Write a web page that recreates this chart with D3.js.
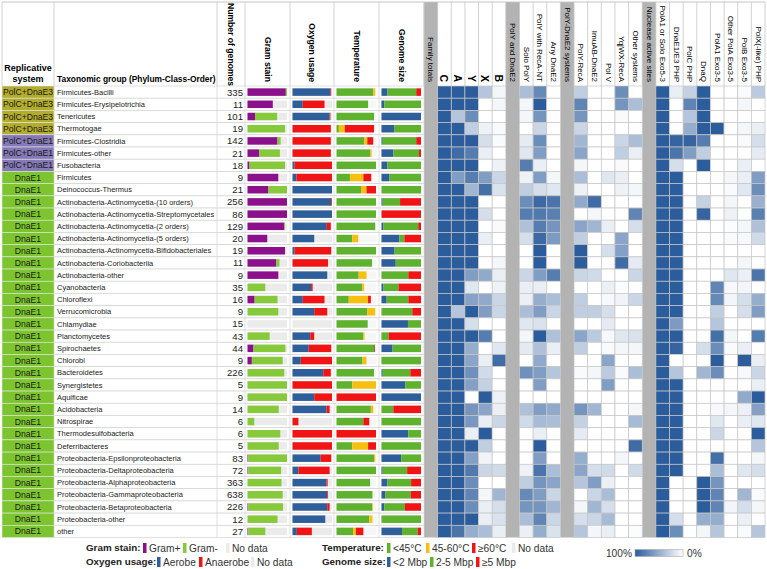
<!DOCTYPE html>
<html>
<head>
<meta charset="utf-8">
<script src="https://cdn.jsdelivr.net/npm/d3@7"></script>
<style>
  body { margin: 0; background: #fff; font-family: "Liberation Sans", Arial, sans-serif; }
</style>
</head>
<body>
<div id="chart"></div>
<script>
// ---- data ----
const systems = [
  "PolC+DnaE3","PolC+DnaE3","PolC+DnaE3","PolC+DnaE3",
  "PolC+DnaE1","PolC+DnaE1","PolC+DnaE1",
  "DnaE1","DnaE1","DnaE1","DnaE1","DnaE1","DnaE1","DnaE1","DnaE1","DnaE1","DnaE1",
  "DnaE1","DnaE1","DnaE1","DnaE1","DnaE1","DnaE1","DnaE1","DnaE1","DnaE1","DnaE1",
  "DnaE1","DnaE1","DnaE1","DnaE1","DnaE1","DnaE1","DnaE1","DnaE1","DnaE1","DnaE1"
];
const taxa = [
  "Firmicutes-Bacilli","Firmicutes-Erysipelotrichia","Tenericutes","Thermotogae",
  "Firmicutes-Clostridia","Firmicutes-other","Fusobacteria","Firmicutes",
  "Deinococcus-Thermus","Actinobacteria-Actinomycetia-(10 orders)",
  "Actinobacteria-Actinomycetia-Streptomycetales","Actinobacteria-Actinomycetia-(2 orders)",
  "Actinobacteria-Actinomycetia-(5 orders)","Actinobacteria-Actinomycetia-Bifidobacteriales",
  "Actinobacteria-Coriobacteriia","Actinobacteria-other","Cyanobacteria","Chloroflexi",
  "Verrucomicrobia","Chlamydiae","Planctomycetes","Spirochaetes","Chlorobi","Bacteroidetes",
  "Synergistetes","Aquificae","Acidobacteria","Nitrospirae","Thermodesulfobacteria",
  "Deferribacteres","Proteobacteria-Epsilonproteobacteria","Proteobacteria-Deltaproteobacteria",
  "Proteobacteria-Alphaproteobacteria","Proteobacteria-Gammaproteobacteria",
  "Proteobacteria-Betaproteobacteria","Proteobacteria-other","other"
];
const genomes = [335,11,101,19,142,21,18,9,21,256,86,129,20,19,11,9,35,16,9,15,43,44,9,226,5,9,14,6,6,5,83,72,363,638,226,12,27];

// fractions; whatever is left over is "No data"
const gram = [ // [Gram+, Gram-]
  [0.97,0.03],[0.64,0],[0.19,0.56],[0,0.95],[0.76,0.08],[0.30,0.52],[0.05,0.90],[0.78,0],
  [0.53,0.47],[1,0],[1,0],[0.93,0.02],[0.50,0],[0.95,0],[0.73,0.08],[0.78,0],[0,0.45],
  [0.18,0.58],[0,0.78],[0,0],[0,0.56],[0.15,0.81],[0.11,0.78],[0,0.93],[0,1],[0,1],[0,0.79],
  [0,0.17],[0,0.83],[0,0.79],[0.02,0.98],[0.02,0.83],[0,0.86],[0,0.89],[0.02,0.88],[0,0.76],[0.02,0.43]
];
const oxygen = [ // [Aerobe, Anaerobe]
  [0.96,0.02],[0.26,0.55],[0.94,0.02],[0,0.97],[0,0.97],[0,0.97],[0.05,0.95],[0.10,0.90],
  [1,0],[0.98,0.02],[1,0],[0.87,0.10],[0.55,0],[0.05,0.93],[0,0.90],[0.88,0],[0.47,0.04],
  [0.26,0.55],[0.55,0.33],[0,0],[0.45,0.10],[0.41,0.57],[0.21,0.79],[0.78,0.19],[0,1],[0.55,0.45],
  [0.86,0.08],[0,0.15],[0,1],[0,1],[0.71,0.27],[0.15,0.79],[0.86,0.03],[0.88,0.02],[0.88,0.06],[0.83,0],[0.11,0.38]
];
const temperature = [ // [<45, 45-60, >=60]
  [0.93,0.05,0],[0.80,0,0],[0.95,0,0],[0.06,0.15,0.74],[0.70,0.08,0.15],[0.86,0.03,0],[1,0,0],
  [0.34,0.34,0.20],[0.62,0.14,0.24],[1,0,0],[1,0,0],[0.98,0,0],[0.40,0.15,0],[1,0,0],[0.90,0,0],
  [0.56,0.20,0],[0.65,0.05,0],[0.31,0.49,0.07],[0.78,0.20,0],[0.79,0,0],[0.68,0.03,0],[0.95,0,0.02],
  [0.66,0.10,0],[0.95,0,0],[0.40,0.60,0],[0,0,1],[0.87,0.06,0],[0.68,0,0.15],[0,0,1],[0.40,0.40,0.20],
  [0.95,0.03,0],[1,0,0],[0.85,0,0],[0.91,0,0],[0.90,0.02,0],[0.83,0.08,0],[0.42,0.07,0.19]
];
const genomeSize = [ // [<2 Mbp, 2-5 Mbp, >=5 Mbp]
  [0.15,0.73,0.12],[0.07,0.93,0],[1,0,0],[0.32,0.68,0],[0.03,0.85,0.12],[0.30,0.65,0.05],[0.15,0.85,0],
  [0.20,0.80,0],[0,1,0],[0.03,0.44,0.53],[0,0,1],[0.05,0.88,0.07],[0.45,0.13,0.42],[0.33,0.67,0],
  [0.36,0.64,0],[0,0.68,0.32],[0.05,0.38,0.57],[0.13,0.55,0.32],[0,0.78,0.22],[0.67,0.33,0],
  [0,0.18,0.82],[0.28,0.72,0],[0,1,0],[0.03,0.70,0.27],[0.60,0.40,0],[1,0,0],[0,0.30,0.70],[0,1,0],
  [0.68,0.32,0],[0,1,0],[0.50,0.50,0],[0.03,0.62,0.35],[0.15,0.60,0.25],[0.10,0.64,0.26],
  [0.07,0.52,0.41],[0,1,0],[0.52,0.40,0.08]
];

// heat map columns; "sep" columns are the grey group headers
const heatLabels = [
  "Family totals","C","A","Y","X","B",
  "PolY and DnaE2","Solo PolY","PolY with RecA-NT","Any DnaE2",
  "PolY-DnaE2 systems","PolY-RecA","ImuAB-DnaE2","Pol V","YqjWX-RecA","Other systems",
  "Nuclease active sites","PolA1 or Solo Exo5-3","DnaE1/E3 PHP","PolC PHP","DnaQ",
  "PolA1 Exo3-5","Other PolA Exo3-5","PolB Exo3-5","PolX(-like) PHP"
];
const sepCols = [0, 6, 10, 16];
const boldCols = [1, 2, 3, 4, 5];

// percent of genomes, one row per taxon, 21 non-grey columns
const heat = [
  [100,100,100,35,5, 40,72,0, 30,0,0,70,0, 100,10,28,100,0,0,3,32],
  [100,100,100,0,5, 5,100,0, 75,0,0,65,40, 100,0,75,100,0,0,5,0],
  [100,35,70,0,0, 5,65,0, 65,0,0,3,0, 100,0,35,100,0,0,0,0],
  [100,100,30,8,3, 0,25,0, 25,0,0,0,0, 100,0,50,100,100,0,5,10],
  [100,100,100,20,3, 12,70,0, 45,0,0,25,40, 100,95,95,80,0,0,3,20],
  [100,90,80,10,0, 15,60,0, 55,0,0,30,10, 100,85,60,30,0,0,0,12],
  [100,100,100,0,8, 80,10,0, 5,0,0,3,0, 100,20,0,100,0,0,10,0],
  [100,60,80,60,25, 8,60,5, 40,0,15,10,0, 100,100,0,0,0,5,10,60],
  [100,100,45,88,18, 30,20,15, 8,0,0,8,5, 100,100,0,0,0,3,15,70],
  [100,100,100,0,0, 70,92,85, 52,90,0,0,0, 100,100,0,28,0,5,0,48],
  [100,100,100,20,0, 80,82,78, 0,5,0,0,75, 100,100,0,95,0,8,0,78],
  [100,100,100,0,3, 38,80,65, 55,45,10,0,20, 100,100,0,0,0,2,5,38],
  [100,100,100,10,0, 20,92,62, 30,0,0,55,0, 100,100,0,0,0,3,4,22],
  [100,100,100,0,0, 0,100,0, 100,0,20,58,0, 100,100,0,0,0,0,0,0],
  [100,100,100,0,5, 0,100,0, 100,0,0,90,12, 100,100,0,0,0,0,5,0],
  [100,100,60,52,10, 25,60,80, 25,22,0,0,25, 100,100,0,0,0,15,9,85],
  [100,100,15,0,8, 10,10,0, 0,0,9,2,0, 100,100,0,0,75,4,6,0],
  [100,100,57,52,25, 9,50,40, 30,0,4,7,25, 100,100,0,0,72,6,20,50],
  [100,35,100,60,25, 40,60,25, 30,30,20,0,0, 100,100,0,0,30,0,20,60],
  [100,100,20,0,0, 15,18,0, 0,0,12,0,0, 100,62,0,0,35,0,0,0],
  [100,100,100,80,0, 5,100,38, 55,32,4,15,18, 100,100,0,0,88,5,0,80],
  [100,100,50,0,15, 13,38,10, 30,0,3,5,5, 100,95,0,20,70,3,10,0],
  [100,100,55,10,90, 0,52,0, 0,0,55,0,0, 100,0,0,0,100,0,100,10],
  [100,100,68,22,0, 68,60,35, 3,5,32,3,40, 100,35,0,45,70,0,4,25],
  [100,100,58,28,0, 0,60,0, 0,0,60,0,0, 100,100,0,0,0,0,0,10],
  [100,100,0,100,8, 0,0,0, 0,0,0,0,0, 100,100,0,0,0,0,52,100],
  [100,100,65,55,9, 38,60,52, 65,45,0,0,5, 100,100,0,0,4,5,9,58],
  [100,100,63,10,25, 22,42,40, 28,0,0,0,42, 100,100,0,0,15,0,10,15],
  [100,100,10,100,0, 0,10,0, 12,0,0,0,0, 100,100,0,0,25,0,0,100],
  [100,100,100,30,0, 0,100,0, 0,0,0,0,90, 100,100,0,0,0,0,0,35],
  [100,100,58,7,0, 0,60,0, 50,0,0,5,0, 100,100,0,0,88,0,0,5],
  [100,100,82,25,22, 8,85,40, 55,20,22,0,22, 100,100,0,0,40,0,15,20],
  [100,100,70,0,0, 30,65,55, 35,60,9,0,0, 100,0,0,100,65,0,0,0],
  [100,100,75,5,45, 72,60,25, 0,25,40,0,0, 100,0,0,100,75,0,45,3],
  [100,100,70,10,20, 65,65,45, 5,45,20,0,0, 100,0,0,100,75,6,20,5],
  [100,100,100,10,18, 40,75,25, 20,25,42,0,0, 100,20,0,50,50,0,9,0],
  [100,85,50,40,10, 9,50,18, 35,5,10,0,2, 100,70,0,5,35,0,3,35]
];

// ---- colours ----
const systemColor = { "PolC+DnaE3": "#b3ad2d", "PolC+DnaE1": "#8579b7", "DnaE1": "#7dc52f" };
const noData = "#ebebeb";
const gramColors = ["#8c0f8c", "#86c93a"];
const oxygenColors = ["#2f5f9b", "#f01414"];
const tempColors = ["#5fb22e", "#f7c00f", "#f01414"];
const sizeColors = ["#2f5f9b", "#5fb22e", "#f01414"];
const heatDark = "#2b5c9c";
const sepGrey = "#b3b3b3";
const gridGrey = "#c6c6c6";

// ---- layout ----
const width = 767, height = 569;
const headTop = 2, headBottom = 86;
const colEdges = [2, 54, 217, 245, 290, 334, 379, 424];

const svg = d3.select("#chart").append("svg")
  .attr("width", width).attr("height", height)
  .style("font-family", '"Liberation Sans", Arial, sans-serif');

const y = d3.scaleBand().domain(d3.range(taxa.length)).range([headBottom, 537.5]);
const hx = d3.scaleBand().domain(d3.range(heatLabels.length)).range([424, 765]);
const heatColor = d3.scaleLinear().domain([0, 100]).range(["#ffffff", heatDark]);

// data column indices for non grey columns
const dataCols = d3.range(heatLabels.length).filter(i => !sepCols.includes(i));

// grey separator columns (full height incl. header)
svg.selectAll(".sep").data(sepCols).enter().append("rect")
  .attr("x", d => hx(d)).attr("y", headTop)
  .attr("width", hx.bandwidth()).attr("height", y.range()[1] - headTop)
  .attr("fill", sepGrey);

// header vertical lines
const headLines = colEdges.concat(d3.range(heatLabels.length + 1).map(i => 424 + i * hx.step()));
svg.selectAll(".hline").data(headLines).enter().append("line")
  .attr("x1", d => d).attr("x2", d => d)
  .attr("y1", headTop).attr("y2", headBottom)
  .attr("stroke", gridGrey).attr("stroke-width", 0.8);
svg.append("line").attr("x1", 2).attr("x2", 765).attr("y1", headTop).attr("y2", headTop)
  .attr("stroke", gridGrey);

// header text
svg.append("text").attr("x", 28).attr("y", 71).attr("text-anchor", "middle")
  .attr("font-size", 9).attr("font-weight", "bold").text("Replicative");
svg.append("text").attr("x", 28).attr("y", 82).attr("text-anchor", "middle")
  .attr("font-size", 9).attr("font-weight", "bold").text("system");
svg.append("text").attr("x", 57).attr("y", 82)
  .attr("font-size", 8.4).attr("font-weight", "bold").text("Taxonomic group (Phylum-Class-Order)");

const leftHeads = [
  { label: "Number of genomes", c: 2 },
  { label: "Gram stain", c: 3 },
  { label: "Oxygen usage", c: 4 },
  { label: "Temperature", c: 5 },
  { label: "Genome size", c: 6 }
];
svg.selectAll(".lhead").data(leftHeads).enter().append("text")
  .attr("transform", d => `translate(${(colEdges[d.c] + colEdges[d.c + 1]) / 2},${d.c === 2 ? 3 : 82}) rotate(90)`)
  .attr("text-anchor", d => d.c === 2 ? "start" : "end")
  .attr("dominant-baseline", "central")
  .attr("font-size", 8.6).attr("font-weight", "bold")
  .text(d => d.label);

svg.selectAll(".hhead").data(heatLabels).enter().append("text")
  .attr("transform", (d, i) => `translate(${hx(i) + hx.bandwidth() / 2},82) rotate(90)`)
  .attr("text-anchor", "end")
  .attr("dominant-baseline", "central")
  .attr("font-size", (d, i) => boldCols.includes(i) ? 10.5 : 8)
  .attr("font-weight", (d, i) => boldCols.includes(i) ? "bold" : "normal")
  .text(d => d);

// ---- rows ----
const rows = svg.selectAll(".row").data(taxa).enter().append("g")
  .attr("class", "row")
  .attr("transform", (d, i) => `translate(0,${y(i)})`);
const rh = y.bandwidth();

rows.append("rect").attr("x", colEdges[1]).attr("y", 0)
  .attr("width", colEdges[7] - colEdges[1]).attr("height", rh)
  .attr("fill", "#fff").attr("stroke", "#d3d3d3").attr("stroke-width", 0.7);
rows.each(function () {
  d3.select(this).selectAll(".vl").data(colEdges.slice(2, 7)).enter().append("line")
    .attr("x1", d => d).attr("x2", d => d).attr("y1", 0).attr("y2", rh)
    .attr("stroke", "#d3d3d3").attr("stroke-width", 0.7);
});

rows.append("rect").attr("x", colEdges[0]).attr("y", 0)
  .attr("width", colEdges[1] - colEdges[0]).attr("height", rh)
  .attr("fill", (d, i) => systemColor[systems[i]])
  .attr("stroke", "#e4e4e4").attr("stroke-width", 0.6);
rows.append("text").attr("x", 28).attr("y", rh / 2).attr("dy", "0.35em")
  .attr("text-anchor", "middle").attr("font-size", 8.6).attr("fill", "#1a1a1a")
  .text((d, i) => systems[i]);
rows.append("text").attr("x", 57).attr("y", rh / 2).attr("dy", "0.35em")
  .attr("font-size", 7.5).attr("fill", "#222").text(d => d);
rows.append("text").attr("x", 243).attr("y", rh / 2).attr("dy", "0.36em")
  .attr("text-anchor", "end").attr("font-size", 9.6).attr("fill", "#222")
  .text((d, i) => genomes[i]);

// stacked bars
const barSets = [
  { values: gram, colors: gramColors, c: 3, bg: noData },
  { values: oxygen, colors: oxygenColors, c: 4, bg: noData },
  { values: temperature, colors: tempColors, c: 5, bg: "#f6f6f6" },
  { values: genomeSize, colors: sizeColors, c: 6, bg: noData }
];
const barH = 7.5;
barSets.forEach(set => {
  const x0 = colEdges[set.c] + 2.5;
  const bx = d3.scaleLinear().domain([0, 1]).range([x0, x0 + 39.5]);
  rows.append("rect").attr("x", bx(0)).attr("y", (rh - barH) / 2)
    .attr("width", bx(1) - bx(0)).attr("height", barH).attr("fill", set.bg);
  rows.each(function (d, i) {
    const vals = set.values[i];
    const ends = d3.cumsum(vals);
    d3.select(this).selectAll(null).data(vals).enter().append("rect")
      .attr("x", (v, k) => bx(ends[k] - v))
      .attr("y", (rh - barH) / 2)
      .attr("width", v => bx(v) - bx(0))
      .attr("height", barH)
      .attr("fill", (v, k) => set.colors[k]);
  });
});

// heat map cells
rows.each(function (d, i) {
  d3.select(this).selectAll(".cell").data(heat[i]).enter().append("rect")
    .attr("x", (v, k) => hx(dataCols[k]))
    .attr("y", 0)
    .attr("width", hx.bandwidth()).attr("height", rh)
    .attr("fill", v => heatColor(v))
    .attr("stroke", gridGrey).attr("stroke-width", 0.7);
});

// ---- legend ----
const legendRows = [
  { title: "Gram stain:", x: 86, y: 548, items: [["Gram+", gramColors[0], 143], ["Gram-", gramColors[1], 183], ["No data", noData, 226]] },
  { title: "Oxygen usage:", x: 86, y: 562, items: [["Aerobe", oxygenColors[0], 157], ["Anaerobe", oxygenColors[1], 199], ["No data", noData, 251]] },
  { title: "Temperature:", x: 322, y: 548, items: [["<45°C", tempColors[0], 387], ["45-60°C", tempColors[1], 426], ["≥60°C", tempColors[2], 472], ["No data", noData, 512]] },
  { title: "Genome size:", x: 322, y: 562, items: [["<2 Mbp", sizeColors[0], 387], ["2-5 Mbp", sizeColors[1], 430], ["≥5 Mbp", sizeColors[2], 476]] }
];
legendRows.forEach(lr => {
  svg.append("text").attr("x", lr.x).attr("y", lr.y).attr("dy", "0.35em")
    .attr("font-size", 9.8).attr("font-weight", "bold").attr("fill", "#222").text(lr.title);
  lr.items.forEach(([label, col, sx]) => {
    svg.append("rect").attr("x", sx).attr("y", lr.y - 5).attr("width", 3.5).attr("height", 10).attr("fill", col);
    svg.append("text").attr("x", sx + 6).attr("y", lr.y).attr("dy", "0.35em")
      .attr("font-size", 10.2).attr("fill", "#333").text(label);
  });
});

// gradient legend
const defs = svg.append("defs");
const grad = defs.append("linearGradient").attr("id", "heatGrad");
grad.append("stop").attr("offset", "0%").attr("stop-color", heatColor(100));
grad.append("stop").attr("offset", "100%").attr("stop-color", heatColor(0));
svg.append("rect").attr("x", 635).attr("y", 549.5).attr("width", 48).attr("height", 7)
  .attr("fill", "url(#heatGrad)").attr("stroke", "#aaa").attr("stroke-width", 0.6);
svg.append("text").attr("x", 632).attr("y", 553).attr("dy", "0.35em").attr("text-anchor", "end")
  .attr("font-size", 10.2).attr("fill", "#333").text("100%");
svg.append("text").attr("x", 687).attr("y", 553).attr("dy", "0.35em")
  .attr("font-size", 10.2).attr("fill", "#333").text("0%");
</script>
</body>
</html>
